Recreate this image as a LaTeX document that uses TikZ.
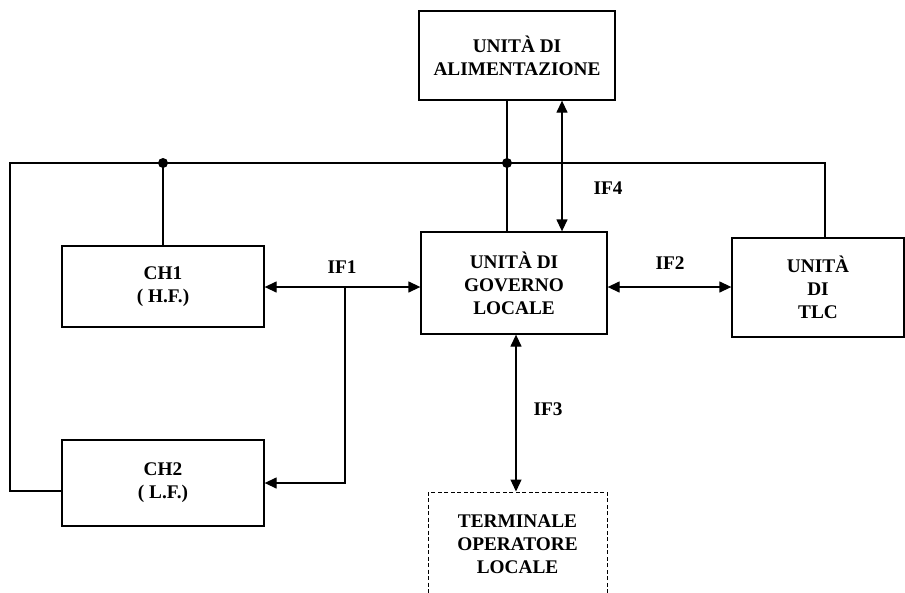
\documentclass[tikz,border=0pt]{standalone}
\usepackage{fontspec}
\setmainfont{Liberation Serif}
\usetikzlibrary{arrows.meta}
\begin{document}
\begin{tikzpicture}[x=1pt,y=-1pt,
  box/.style={draw,line width=1.3pt,rectangle,inner sep=0pt,align=center,
    font=\bfseries\fontsize{19.3}{23}\selectfont},
  dashbox/.style={box,line width=1pt,dash pattern=on 4pt off 2.5pt},
  wire/.style={line width=1.3pt},
  arr/.style={wire,{Triangle[length=12pt,width=11pt]}-{Triangle[length=12pt,width=11pt]}},
  arrone/.style={wire,-{Triangle[length=12pt,width=11pt]}},
  lbl/.style={font=\bfseries\fontsize{19.3}{23}\selectfont,inner sep=0pt},
  dot/.style={circle,fill,inner sep=0pt,minimum size=10pt}]
\useasboundingbox (0,0) rectangle (905,592);
\begin{scope}
\clip (0,0) rectangle (905,592);
\node[box,minimum width=196pt,minimum height=89pt] (alim) at (517,55.5) {UNITÀ DI\\ALIMENTAZIONE};
\node[box,minimum width=186pt,minimum height=102pt] (gov) at (514,283) {UNITÀ DI\\GOVERNO\\LOCALE};
\node[box,minimum width=202pt,minimum height=81pt] (ch1) at (163,286.5) {CH1\\( H.F.)};
\node[box,minimum width=202pt,minimum height=86pt] (ch2) at (163,483) {CH2\\( L.F.)};
\node[box,minimum width=172pt,minimum height=99pt] (tlc) at (818,287.5) {UNITÀ\\DI\\TLC};
\node[dashbox,minimum width=179pt,minimum height=104pt] (term) at (517.5,544) {TERMINALE\\OPERATORE\\LOCALE};
\end{scope}

\coordinate (busL) at (10,163);
\coordinate (busR) at (825,163);
\coordinate (wallB) at (10,491);
\coordinate (j2) at (507,163);
\coordinate (if1) at (345,287);
\coordinate (if2) at (670,287);
\coordinate (if4) at (562,163);
\coordinate (if3) at (516,408);

% bus
\draw[wire] (ch2.west |- wallB) -- (wallB) -- (busL) -- (busR) -- (busR |- tlc.north);
\draw[wire] (ch1.north) -- (ch1.north |- busL);
\node[dot] (d1) at (ch1.north |- busL) {};
\draw[wire] (j2 |- alim.south) -- (j2 |- gov.north);
\node[dot] (d2) at (j2) {};

% interfaces
\draw[arr] (if4 |- alim.south) -- (if4 |- gov.north);
\draw[arr] (if1 -| ch1.east) -- (if1 -| gov.west);
\draw[arrone] (if1) |- (ch2.east);
\draw[arr] (if2 -| gov.east) -- (if2 -| tlc.west);
\draw[arr] (if3 |- gov.south) -- (if3 |- term.north);

\node[lbl] (l1) at (342,267) {IF1};
\node[lbl] (l2) at (670,263) {IF2};
\node[lbl] (l3) at (548,409) {IF3};
\node[lbl] (l4) at (608,188) {IF4};
\end{tikzpicture}
\end{document}
